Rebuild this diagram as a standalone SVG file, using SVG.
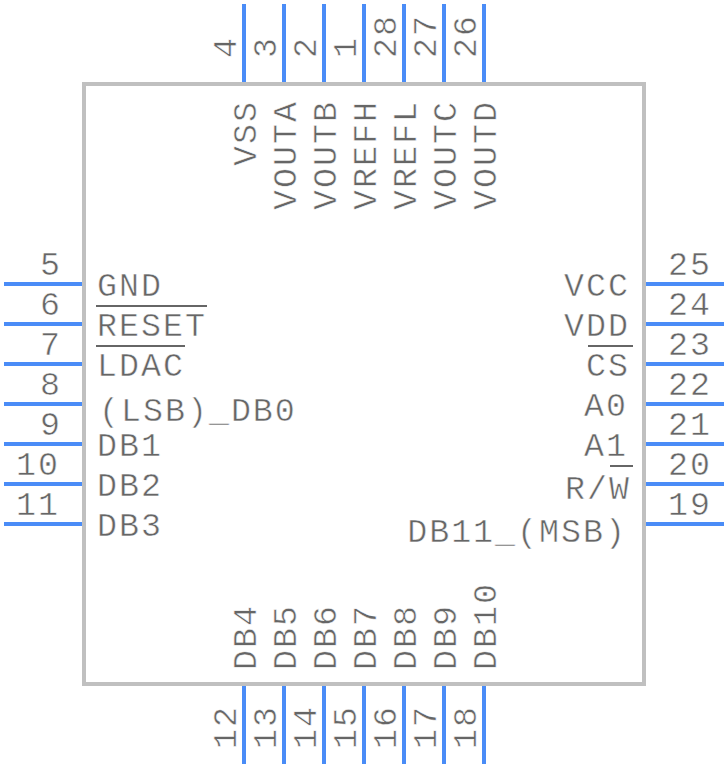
<svg xmlns="http://www.w3.org/2000/svg" width="728" height="768" viewBox="0 0 728 768">
<style>
.pin{stroke:#4a8cf7;stroke-width:4;fill:none}
.box{stroke:#c0c0c0;stroke-width:4;fill:#fff}
.bar{stroke:#666;stroke-width:2;fill:none}
text{font-family:"Liberation Mono",monospace;font-size:33.3px;fill:#666;letter-spacing:2px;stroke:#fff;stroke-width:.5px}
.e{text-anchor:end}
</style>
<rect id="body" class="box" x="84" y="84" width="560" height="600"/>
<g id="connectors">
<path class="pin" d="M244 4V82M284 4V82M324 4V82M364 4V82M404 4V82M444 4V82M484 4V82"/>
<path class="pin" d="M244 686V764M284 686V764M324 686V764M364 686V764M404 686V764M444 686V764M484 686V764"/>
<path class="pin" d="M4 284H82M4 324H82M4 364H82M4 404H82M4 444H82M4 484H82M4 524H82"/>
<path class="pin" d="M646 284H724M646 324H724M646 364H724M646 404H724M646 444H724M646 484H724M646 524H724"/>
</g>
<g id="left-pins">
<text class="e" x="62" y="275">5</text><text class="e" x="62" y="315">6</text><text class="e" x="62" y="355">7</text><text class="e" x="62" y="395">8</text><text class="e" x="62" y="435">9</text><text class="e" x="60" y="475">10</text><text class="e" x="60" y="515">11</text>
<text x="97" y="296">GND</text><text x="97" y="336">RESET</text><text x="97" y="376">LDAC</text><text x="99" y="421">(LSB)_DB0</text><text x="97" y="456">DB1</text><text x="97" y="496">DB2</text><text x="97" y="536">DB3</text>
<path class="bar" d="M96 306H207M96 346H185"/>
</g>
<g id="right-pins">
<text x="668" y="275">25</text><text x="668" y="315">24</text><text x="668" y="355">23</text><text x="668" y="395">22</text><text x="668" y="435">21</text><text x="668" y="475">20</text><text x="668" y="515">19</text>
<text class="e" x="630" y="296">VCC</text><text class="e" x="630" y="336">VDD</text><text class="e" x="630" y="376">CS</text><text class="e" x="628" y="416">A0</text><text class="e" x="628" y="456">A1</text><text class="e" x="631" y="499">R/W</text><text class="e" x="627" y="542">DB11_(MSB)</text>
<path class="bar" d="M588 346H633M610 466H633"/>
</g>
<g id="top-pins">
<text transform="translate(236 58) rotate(-90)">4</text><text transform="translate(276 58) rotate(-90)">3</text><text transform="translate(316 58) rotate(-90)">2</text><text transform="translate(356 58) rotate(-90)">1</text><text transform="translate(396 58) rotate(-90)">28</text><text transform="translate(436 58) rotate(-90)">27</text><text transform="translate(476 58) rotate(-90)">26</text>
<text transform="translate(256 166) rotate(-90)">VSS</text><text transform="translate(296 210) rotate(-90)">VOUTA</text><text transform="translate(336 210) rotate(-90)">VOUTB</text><text transform="translate(376 210) rotate(-90)">VREFH</text><text transform="translate(416 210) rotate(-90)">VREFL</text><text transform="translate(456 210) rotate(-90)">VOUTC</text><text transform="translate(496 210) rotate(-90)">VOUTD</text>
</g>
<g id="bottom-pins">
<text transform="translate(236 749) rotate(-90)">12</text><text transform="translate(276 749) rotate(-90)">13</text><text transform="translate(316 749) rotate(-90)">14</text><text transform="translate(356 749) rotate(-90)">15</text><text transform="translate(396 749) rotate(-90)">16</text><text transform="translate(436 749) rotate(-90)">17</text><text transform="translate(476 749) rotate(-90)">18</text>
<text transform="translate(256 670) rotate(-90)">DB4</text><text transform="translate(296 670) rotate(-90)">DB5</text><text transform="translate(336 670) rotate(-90)">DB6</text><text transform="translate(376 670) rotate(-90)">DB7</text><text transform="translate(416 670) rotate(-90)">DB8</text><text transform="translate(456 670) rotate(-90)">DB9</text><text transform="translate(496 670) rotate(-90)">DB10</text>
</g>
</svg>
